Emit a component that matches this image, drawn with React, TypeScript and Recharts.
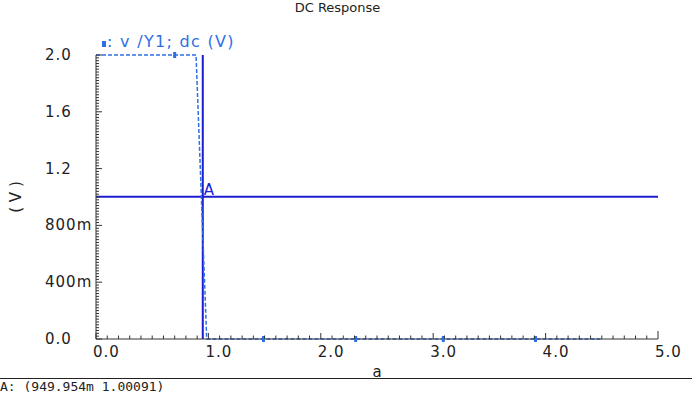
import React from 'react';
import { LineChart, Line, XAxis, YAxis, ReferenceLine, ReferenceDot } from 'recharts';

// swept parameter "a" and the output voltage v(/Y1)
const sweepA = [0, 0.7, 0.89, 0.985, 1.49, 2.31, 3.09, 3.91, 4.5];
const vY1 = [2.0, 2.0, 2.0, 0, 0, 0, 0, 0, 0];
// where the waveform shows its little symbol
const hasSymbol = [false, true, false, false, true, true, true, true, false];

const xMajor = [0, 1, 2, 3, 4, 5];
const xLabels = ['0.0', '1.0', '2.0', '3.0', '4.0', '5.0'];
const yMajor = [0, 0.4, 0.8, 1.2, 1.6, 2.0];
const yLabels = ['0.0', '400m', '800m', '1.2', '1.6', '2.0'];

// marker A
const markerA = { a: 0.949954, v: 1.00091 };

const xTicks = Array.from({ length: 51 }, (_, i) => i / 10);
const yTicks = Array.from({ length: 101 }, (_, i) => i / 50);

const data = sweepA.map((a, i) => ({ a, v: vY1[i], sym: hasSymbol[i] }));

const WAVE = '#2f6fe6';
const MARK = '#1c1cd2';
const AXIS = '#333';
const TICK_FONT = '"DejaVu Sans", sans-serif';

const XTick = (props: any) => {
  const { x, y, payload } = props;
  const idx = xMajor.findIndex((m) => Math.abs(m - payload.value) < 1e-6);
  const len = idx < 0 ? 3.5 : idx === xMajor.length - 1 ? 8 : 6;
  return (
    <g>
      <line x1={x} y1={y} x2={x} y2={y - len} stroke={AXIS} />
      {idx >= 0 && (
        <text x={x - 3} y={y + 18} fontSize={15} letterSpacing={1} fontFamily={TICK_FONT} fill="#222">
          {xLabels[idx]}
        </text>
      )}
    </g>
  );
};

const YTick = (props: any) => {
  const { x, y, payload } = props;
  const idx = yMajor.findIndex((m) => Math.abs(m - payload.value) < 1e-6);
  const len = idx < 0 ? 3 : 6;
  return (
    <g>
      <line x1={x} y1={y} x2={x + len} y2={y} stroke={AXIS} />
      {idx >= 0 && (
        <text x={45} y={y} fontSize={15} letterSpacing={1} fontFamily={TICK_FONT} fill="#222" dominantBaseline="central">
          {yLabels[idx]}
        </text>
      )}
    </g>
  );
};

const WaveDot = (props: any) => {
  const { cx, cy, payload, index } = props;
  if (!payload.sym) return <g key={`d-${index}`} />;
  return <rect key={`d-${index}`} x={cx - 1.5} y={cy - 3} width={3} height={6} fill={WAVE} />;
};

const YLabel = (props: any) => {
  const vb = props.viewBox;
  const cy = vb.y + vb.height / 2;
  return (
    <text
      x={16}
      y={cy}
      transform={`rotate(-90 16 ${cy})`}
      textAnchor="middle"
      dominantBaseline="central"
      fontSize={15}
      fontFamily={TICK_FONT}
      fill="#222"
    >
      ( V )
    </text>
  );
};

export default function App() {
  return (
    <div style={{ position: 'absolute', left: 0, top: 0, width: 692, height: 396, background: '#fff', overflow: 'hidden' }}>
      <div style={{ position: 'absolute', left: 0, width: 675, top: 0, textAlign: 'center', fontFamily: TICK_FONT, fontSize: 13, color: '#222' }}>
        DC Response
      </div>
      <div style={{ position: 'absolute', left: 102, top: 41, width: 4, height: 6, background: WAVE }} />
      <div style={{ position: 'absolute', left: 107, top: 32, fontFamily: TICK_FONT, fontSize: 16, letterSpacing: 1.3, color: WAVE, whiteSpace: 'pre' }}>
        : v /Y1; dc (V)
      </div>
      <LineChart width={692} height={396} data={data} margin={{ top: 55, right: 34, bottom: 0, left: 0 }}>
        <XAxis
          dataKey="a"
          type="number"
          domain={[0, 5]}
          ticks={xTicks}
          interval={0}
          height={57}
          tickSize={0}
          tickMargin={0}
          tickLine={false}
          tick={XTick}
          axisLine={{ stroke: AXIS }}
          label={{ value: 'a', position: 'insideTop', dy: 22, fill: '#222', fontSize: 15, fontFamily: TICK_FONT }}
        />
        <YAxis
          type="number"
          domain={[0, 2]}
          ticks={yTicks}
          interval={0}
          width={96}
          tickSize={0}
          tickMargin={0}
          tickLine={false}
          tick={YTick}
          axisLine={{ stroke: AXIS }}
          label={{ content: YLabel }}
        />
        <ReferenceLine y={markerA.v} stroke={MARK} strokeWidth={2} />
        <ReferenceLine x={markerA.a} stroke={MARK} strokeWidth={2} />
        <Line
          type="linear"
          dataKey="v"
          stroke={WAVE}
          strokeWidth={1.5}
          strokeDasharray="4 2"
          dot={WaveDot}
          activeDot={false}
          isAnimationActive={false}
        />
        <ReferenceDot
          x={markerA.a}
          y={markerA.v}
          shape={(p: any) => (
            <text x={p.cx + 1} y={p.cy - 2} fill={MARK} fontSize={15} fontFamily={TICK_FONT}>
              A
            </text>
          )}
        />
      </LineChart>
      <div style={{ position: 'absolute', left: 0, top: 378, width: 692, height: 1, background: '#222' }} />
      <div style={{ position: 'absolute', left: 0, top: 379, fontFamily: '"DejaVu Sans Mono", monospace', fontSize: 13, color: '#222', whiteSpace: 'pre' }}>
        A: (949.954m 1.00091)
      </div>
    </div>
  );
}
